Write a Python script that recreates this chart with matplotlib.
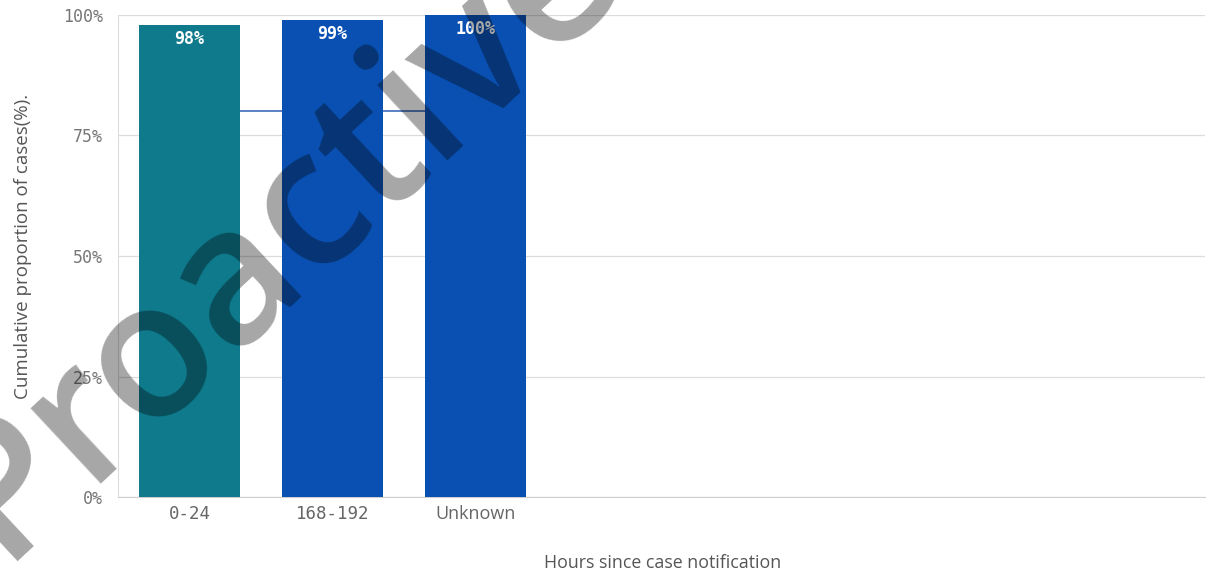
from __future__ import annotations

import numpy as np
import matplotlib
matplotlib.use("Agg")
import matplotlib.pyplot as plt

# data
categories = ["0-24", "168-192", "Unknown"]
cum_pct = [98, 99, 100]
bar_colors = ["#0e7a8c", "#0a50b2", "#0a50b2"]
ref_line_pct = [80, 80, 80]
y_ticks = [0, 25, 50, 75, 100]
y_tick_labels = ["0%", "25%", "50%", "75%", "100%"]

MONO = ["DejaVu Sans Mono"]
SANS = ["Open Sans", "DejaVu Sans"]


def draw_chart(out: str = "out.png") -> None:
    fig = plt.figure(figsize=(12.16, 5.72), dpi=100)
    ax = fig.add_axes([0.097, 0.131, 0.894, 0.843])

    x = np.arange(len(categories))
    ax.plot(x, ref_line_pct, color="#4a78c0", lw=1.3, zorder=2)
    bars = ax.bar(x, cum_pct, width=0.70, color=bar_colors, zorder=3)
    for b, v in zip(bars, cum_pct):
        ax.annotate(f"{v}%", (b.get_x() + b.get_width() / 2, b.get_height()),
                    xytext=(0, -4), textcoords="offset points",
                    ha="center", va="top", color="white", fontsize=12,
                    fontweight="bold", family=MONO, zorder=4)

    ax.set_xlim(-0.5, 7.1)
    ax.set_ylim(0, 100)
    ax.set_yticks(y_ticks)
    ax.set_yticklabels(y_tick_labels, family=MONO, fontsize=12, color="#777777")
    ax.set_xticks(x)
    ax.set_xticklabels(categories, fontsize=12.5, color="#666666", family=MONO)
    unk = ax.get_xticklabels()[2]
    unk.set_family(SANS)
    unk.set_fontsize(13)
    ax.tick_params(length=0, axis="both")
    ax.tick_params(axis="y", pad=11)
    ax.tick_params(axis="x", pad=6)

    ax.grid(axis="y", color="#dcdcdc", lw=0.9, zorder=0)
    for s in ("top", "right"):
        ax.spines[s].set_visible(False)
    ax.spines["left"].set_color("#dcdcdc")
    ax.spines["bottom"].set_color("#cfcfcf")

    fig.text(0.019, 0.57, "Cumulative proportion of cases(%).", rotation=90,
             ha="center", va="center", fontsize=13.5, color="#555555", family=SANS)
    fig.text(0.545, 0.016, "Hours since case notification", ha="center",
             va="center", fontsize=12.75, color="#555555", family=SANS)

    # scan watermark
    fig.text(0.229, 0.592, "Proactive", rotation=43, ha="center", va="center",
             fontsize=137, fontweight="semibold", color="black", alpha=0.35,
             family=SANS, zorder=10)

    fig.savefig(out, dpi=100)
    plt.close(fig)


if __name__ == "__main__":
    draw_chart()
